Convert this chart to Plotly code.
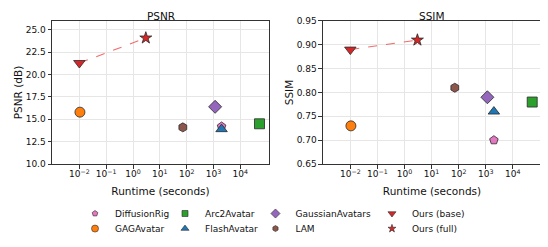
import plotly.graph_objects as go

methods = ["DiffusionRig", "GAGAvatar", "Arc2Avatar", "FlashAvatar",
           "GaussianAvatars", "LAM", "Ours (base)", "Ours (full)"]
runtime = [2000, 0.0105, 52000, 2000, 1150, 72, 0.01, 3.0]
psnr = [14.2, 15.8, 14.5, 13.9, 16.4, 14.1, 21.3, 24.1]
ssim = [0.70, 0.73, 0.78, 0.76, 0.79, 0.81, 0.89, 0.91]
colors = ["#e377c2", "#ff7f0e", "#2ca02c", "#1f77b4",
          "#9467bd", "#8c564b", "#d62728", "#d62728"]
symbols = ["pentagon", "circle", "square", "triangle-up",
           "diamond", "hexagon", "triangle-down", "star"]
sizes = [9, 10, 10, 10, 10, 9, 10, 9]
legend_sizes = [6, 7, 6, 7, 7, 6, 7, 6]
xtick_vals = [1e-2, 1e-1, 1e0, 1e1, 1e2, 1e3, 1e4]
xtick_text = ["10<sup>−2</sup>", "10<sup>−1</sup>", "10<sup>0</sup>", "10<sup>1</sup>",
              "10<sup>2</sup>", "10<sup>3</sup>", "10<sup>4</sup>"]
psnr_ticks = [10.0, 12.5, 15.0, 17.5, 20.0, 22.5, 25.0]
ssim_ticks = [0.65, 0.70, 0.75, 0.80, 0.85, 0.90, 0.95]

# legend slot positions (paper coords) for each method, column-major 4x2 grid
legend_pos = {
    "DiffusionRig": (0.1223, 0.168), "GAGAvatar": (0.1223, 0.107),
    "Arc2Avatar": (0.2865, 0.168), "FlashAvatar": (0.2865, 0.107),
    "GaussianAvatars": (0.4516, 0.168), "LAM": (0.4516, 0.107),
    "Ours (base)": (0.6642, 0.168), "Ours (full)": (0.6642, 0.107),
}

FONT = "DejaVu Sans"
fig = go.Figure()

# dashed connection lines
for xa, ya, vals in [("x", "y", psnr), ("x2", "y2", ssim)]:
    fig.add_trace(go.Scatter(
        x=[runtime[6], runtime[7]], y=[vals[6], vals[7]], mode="lines",
        line=dict(color="rgba(240,70,70,0.8)", width=1.1, dash="dash"),
        xaxis=xa, yaxis=ya, showlegend=False, hoverinfo="skip"))

for i, m in enumerate(methods):
    for xa, ya, vals in [("x", "y", psnr), ("x2", "y2", ssim)]:
        fig.add_trace(go.Scatter(
            x=[runtime[i]], y=[vals[i]], mode="markers", name=m,
            marker=dict(symbol=symbols[i], size=sizes[i], color=colors[i],
                        line=dict(color="#2a2a2a", width=0.8)),
            xaxis=xa, yaxis=ya, showlegend=False))
    lg = "legend" if i == 0 else f"legend{i+1}"
    fig.add_trace(go.Scatter(
        x=[None], y=[None], mode="markers", name=m, legend=lg,
        marker=dict(symbol=symbols[i], size=legend_sizes[i], color=colors[i],
                    line=dict(color="#2a2a2a", width=0.6)),
        xaxis="x", yaxis="y", showlegend=True))

layout_legends = {}
for i, m in enumerate(methods):
    lg = "legend" if i == 0 else f"legend{i+1}"
    lx, ly = legend_pos[m]
    layout_legends[lg] = dict(x=lx, y=ly, xanchor="left", yanchor="middle",
                              bgcolor="rgba(0,0,0,0)", borderwidth=0,
                              font=dict(family=FONT, size=9, color="#111"),
                              itemclick=False)

axis_common = dict(showline=True, linecolor="#333", linewidth=1, mirror=True,
                   ticks="outside", ticklen=3.5, tickwidth=0.8, tickcolor="#333",
                   showgrid=True, gridcolor="#e6e6e6", gridwidth=0.8,
                   tickfont=dict(family=FONT, size=9, color="#111"), zeroline=False)

fig.update_layout(
    width=548, height=247, margin=dict(l=0, r=0, t=0, b=0, autoexpand=False),
    paper_bgcolor="white", plot_bgcolor="white",
    font=dict(family=FONT, color="#111"),
    xaxis=dict(domain=[0.0803, 0.4763], type="log", range=[-3.02, 5.07],
               tickvals=xtick_vals, ticktext=xtick_text, anchor="y",
               ticklabelstandoff=-2,
               title=dict(text="Runtime (seconds)", font=dict(size=10.5), standoff=9),
               **axis_common),
    yaxis=dict(domain=[0.3684, 0.9474], range=[10, 26], tickvals=psnr_ticks,
               tickformat=".1f", anchor="x",
               title=dict(text="PSNR (dB)", font=dict(size=10.5), standoff=0),
               **axis_common),
    xaxis2=dict(domain=[0.5748, 0.9726], type="log", range=[-3.01, 5.04],
                tickvals=xtick_vals, ticktext=xtick_text, anchor="y2",
                ticklabelstandoff=-2,
                title=dict(text="Runtime (seconds)", font=dict(size=10.5), standoff=9),
                **axis_common),
    yaxis2=dict(domain=[0.3684, 0.9474], range=[0.65, 0.95], tickvals=ssim_ticks,
                tickformat=".2f", anchor="x2",
                title=dict(text="SSIM", font=dict(size=10.5), standoff=0),
                **axis_common),
    annotations=[
        dict(text="PSNR", x=0.2783, y=1.0, xref="paper", yref="paper",
             xanchor="center", yanchor="top", showarrow=False,
             font=dict(family=FONT, size=10.5, color="#111")),
        dict(text="SSIM", x=0.7737, y=1.0, xref="paper", yref="paper",
             xanchor="center", yanchor="top", showarrow=False,
             font=dict(family=FONT, size=10.5, color="#111")),
    ],
    **layout_legends,
)

fig.write_html("out.html")
